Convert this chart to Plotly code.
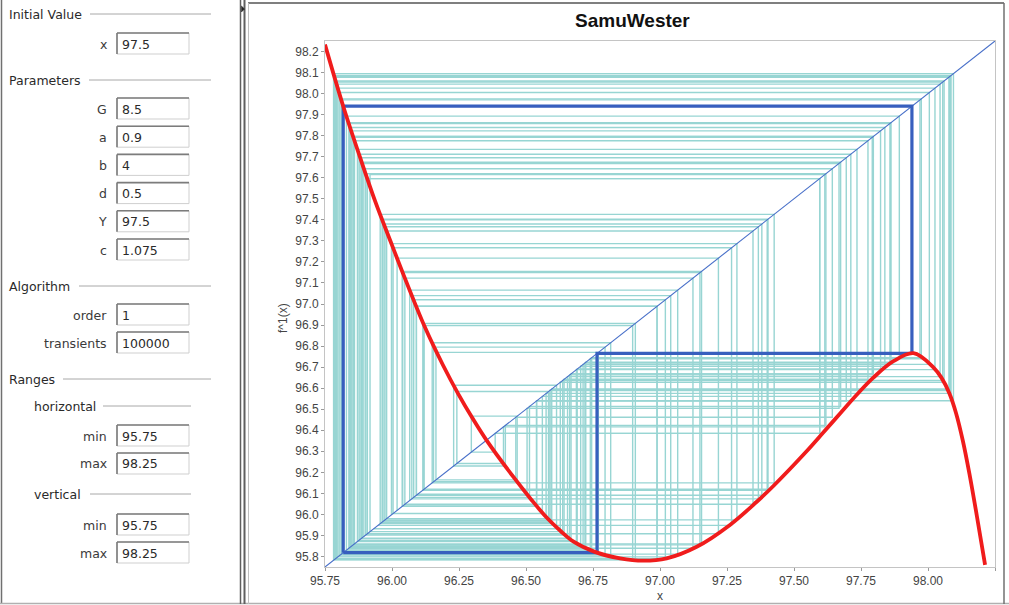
import plotly.graph_objects as go

# ---- map f(x) sampled along the horizontal range ----
curve_x = [95.75, 95.818, 95.88, 95.937, 96.00, 96.042, 96.123, 96.19, 96.247, 96.30,
           96.353, 96.453, 96.52, 96.577, 96.63, 96.676, 96.757, 96.851, 96.938, 97.025,
           97.137, 97.261, 97.361, 97.423, 97.547, 97.61, 97.672, 97.735, 97.796, 97.871,
           97.946, 98.02, 98.05, 98.08, 98.105, 98.13, 98.155, 98.182, 98.213]
curve_y = [98.233, 97.94, 97.70, 97.489, 97.28, 97.142, 96.889, 96.71, 96.573, 96.458,
           96.352, 96.178, 96.07, 95.985, 95.92, 95.872, 95.822, 95.791, 95.78, 95.791,
           95.846, 95.95, 96.06, 96.135, 96.30, 96.39, 96.48, 96.57, 96.65, 96.728,
           96.766, 96.699, 96.65, 96.575, 96.48, 96.35, 96.19, 95.995, 95.76]

# ---- period-3 cycle (thick blue cobweb) ----
cycle_pts = [95.818, 97.94, 96.765]

# ---- iterates of the orbit (light cobweb), one list per stretch ----
orbit_1 = [95.782, 98.095, 96.54, 96.038, 97.155, 95.86, 97.776, 96.642, 95.902, 97.619,
           96.423, 96.23, 96.614, 95.932]
orbit_2 = [96.091, 96.989, 95.786, 98.078, 96.596, 95.956, 97.426, 96.15, 96.816, 95.803,
           98.005, 96.713, 95.844, 97.839, 96.704, 95.848, 97.823, 96.691, 95.855, 97.796,
           96.668, 95.871, 97.735, 96.59, 95.963, 97.403, 96.12, 96.898, 95.785, 98.082,
           96.589, 95.964, 97.40, 96.115, 96.908, 95.784, 98.086, 96.575, 95.98, 97.347,
           96.048, 97.123, 95.839, 97.858, 96.72, 95.84, 97.862, 96.723, 95.838]
orbit_3 = [95.791, 98.055, 96.637, 95.908, 97.596, 96.385, 96.296, 96.467, 96.155, 96.795,
           95.81, 97.975, 96.74, 95.83, 97.893, 96.741, 95.83]
orbit_4 = [95.794, 98.045, 96.655, 95.887, 97.674, 96.513, 96.081, 97.02, 95.79, 98.06,
           96.628, 95.918, 97.615, 96.416, 96.242, 96.584, 95.97, 97.38, 96.091, 96.989, 95.786]
orbit_5 = [95.998, 97.287, 95.974, 97.367, 96.074, 97.04, 95.798, 98.026, 96.688, 95.856,
           97.792, 96.663, 95.877, 97.712, 96.561, 96.004, 97.267, 95.948]
orbit_6 = [96.019, 97.218, 95.908, 97.596, 96.385]
orbit_7 = [96.066, 97.066, 95.811, 97.97, 96.745, 95.83]
orbit_8 = [95.881, 97.695, 96.539, 96.04, 97.149, 95.855, 97.796, 96.668]
orbit_9 = [95.889, 97.668, 96.504, 96.096]
orbit_10 = [95.895, 97.643, 96.462, 96.164, 96.77, 95.82]

# ---- axis ranges ----
x_range = [95.75, 98.25]
y_range = [95.75, 98.25]

# ---- settings panel contents ----
initial_fields = [("x", "97.5")]
param_fields = [("G", "8.5"), ("a", "0.9"), ("b", "4"), ("d", "0.5"), ("Y", "97.5"), ("c", "1.075")]
algo_fields = [("order", "1"), ("transients", "100000")]
horiz_fields = [("min", "95.75"), ("max", "98.25")]
vert_fields = [("min", "95.75"), ("max", "98.25")]


def cobweb(seq):
    xs, ys = [seq[0]], [seq[0]]
    for a, b in zip(seq[:-1], seq[1:]):
        xs += [a, b]
        ys += [b, b]
    return xs, ys


W, H = 1009, 605
PL, PR, PT, PB = 325, 995, 41, 567


def fx(p):
    return (p - PL) / (PR - PL)


def fy(p):
    return (PB - p) / (PB - PT)


fig = go.Figure()

# light cobweb of the orbit
web_x, web_y = [], []
for seq in (orbit_1, orbit_2, orbit_3, orbit_4, orbit_5, orbit_6, orbit_7, orbit_8, orbit_9, orbit_10):
    sx, sy = cobweb(seq)
    web_x += sx + [None]
    web_y += sy + [None]
fig.add_trace(go.Scatter(x=web_x, y=web_y, mode="lines",
                         line=dict(color="rgb(152,213,211)", width=1.4),
                         hoverinfo="skip", showlegend=False))

# diagonal y = x
fig.add_trace(go.Scatter(x=x_range, y=y_range, mode="lines",
                         line=dict(color="rgb(70,110,200)", width=1.1),
                         hoverinfo="skip", showlegend=False))

# thick cycle
cyc = cycle_pts + [cycle_pts[0]]
cx, cy = cobweb(cyc)
fig.add_trace(go.Scatter(x=cx, y=cy, mode="lines",
                         line=dict(color="rgb(55,95,190)", width=3.2),
                         hoverinfo="skip", showlegend=False))

# the map
fig.add_trace(go.Scatter(x=curve_x, y=curve_y, mode="lines",
                         line=dict(color="rgb(240,28,28)", width=3.8, shape="spline", smoothing=1.0),
                         hoverinfo="skip", showlegend=False))

shapes = []
annotations = []
GRAY = "#9a9a9a"
TXT = "#2a2a2a"
PFONT = "DejaVu Sans"


def line_px(x0, y0, x1, y1, color=GRAY, width=1):
    shapes.append(dict(type="line", xref="paper", yref="paper",
                       x0=fx(x0), y0=fy(y0), x1=fx(x1), y1=fy(y1),
                       line=dict(color=color, width=width), layer="above"))


def text_px(x, y, s, anchor="left", size=12.5, color=TXT, family=PFONT, bold=False, angle=0):
    annotations.append(dict(xref="paper", yref="paper", x=fx(x), y=fy(y),
                            text=("<b>%s</b>" % s) if bold else s, showarrow=False,
                            xanchor=anchor, yanchor="middle", textangle=angle,
                            font=dict(family=family, size=size, color=color)))


def header(x, y, s, lx0, lx1):
    text_px(x, y, s)
    line_px(lx0, y, lx1, y, color="#a8a8a8")


def field(top, label, value):
    bot = top + 21
    shapes.append(dict(type="rect", xref="paper", yref="paper",
                       x0=fx(117), y0=fy(bot), x1=fx(189), y1=fy(top),
                       line=dict(color="#cfcfcf", width=1), fillcolor="white", layer="above"))
    line_px(117, top, 189, top, color="#7c7c7c", width=1.6)
    line_px(117, top, 117, bot, color="#7c7c7c", width=1.6)
    text_px(109, top + 11, label, anchor="right", color="#3a3a3a")
    text_px(119.5, top + 11, value, anchor="left", color=TXT)


# window frames
line_px(1.5, 0, 1.5, 604, color="#707070", width=1.5)
line_px(0, 603.5, 1009, 603.5, color="#b0b0b0", width=1.5)
line_px(240.5, 0, 240.5, 604, color="#606060", width=1.5)
line_px(244.5, 0, 244.5, 604, color="#606060", width=2)
line_px(248, 3, 1004, 3, color="#555555", width=1.5)
line_px(248.5, 3, 248.5, 604, color="#c0c0c0", width=1)
line_px(1004, 3, 1004, 604, color="#707070", width=1.5)
shapes.append(dict(type="path", xref="paper", yref="paper",
                   path="M %f,%f L %f,%f L %f,%f Z" % (fx(241.5), fy(6), fx(244.5), fy(9), fx(241.5), fy(12)),
                   fillcolor="#222222", line=dict(color="#222222", width=0.5), layer="above"))

# settings panel
header(7, 14, "Initial Value", 90, 211)
field(33, *initial_fields[0])
header(7, 80, "Parameters", 89, 211)
for i, (lab, val) in enumerate(param_fields):
    field(98 + i * 28.2, lab, val)
header(7, 286, "Algorithm", 79, 211)
field(304, *algo_fields[0])
field(332, *algo_fields[1])
header(7, 379, "Ranges", 63, 211)
header(32, 406, "horizontal", 103, 191)
field(425, *horiz_fields[0])
field(453, *horiz_fields[1])
header(32, 494, "vertical", 90, 191)
field(514, *vert_fields[0])
field(542, *vert_fields[1])

# chart labels
text_px(632, 20, "SamuWester", anchor="center", size=19, color="#111111", family="Liberation Sans", bold=True)
text_px(660, 596, "x", anchor="center", size=12, color="#444444", family="Liberation Sans")
text_px(283, 318, "f^1(x)", anchor="center", size=12, color="#444444", family="Liberation Sans", angle=-90)

axis_common = dict(showgrid=False, zeroline=False, showline=True, linecolor="#c4c4c4",
                   linewidth=1, mirror=True, ticks="outside", ticklen=3, tickcolor="#9a9a9a",
                   tickfont=dict(family="Liberation Sans", size=12, color="#444444"),
                   fixedrange=True)

fig.update_layout(
    width=W, height=H, autosize=False,
    margin=dict(l=PL, r=W - PR, t=PT, b=H - PB, autoexpand=False),
    paper_bgcolor="white", plot_bgcolor="white",
    xaxis=dict(range=x_range, tick0=95.75, dtick=0.25, tickformat=".2f", **axis_common),
    yaxis=dict(range=y_range, tick0=95.8, dtick=0.1, tickformat=".1f", **axis_common),
    shapes=shapes, annotations=annotations, showlegend=False,
)

fig.write_html("out.html")
